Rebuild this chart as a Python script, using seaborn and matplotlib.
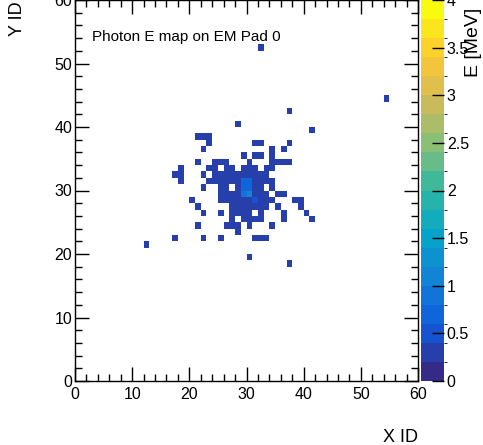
import numpy as np
import matplotlib
matplotlib.use("Agg")
import matplotlib.pyplot as plt
import matplotlib.colors as mcolors
import seaborn as sns

# fired cells on the EM pad: X ID, Y ID and energy (MeV)
cell_x = [32, 54, 37, 28, 41, 12, 17, 22, 25, 31, 32, 33, 30, 37,
          21, 22, 23,
          23, 31, 32, 37,
          22, 34, 36,
          29, 31, 32, 34,
          21, 24, 25, 26, 30, 34, 35, 36, 37,
          18, 23, 24, 26, 27, 29, 30, 31, 33, 34,
          17, 18, 22, 24, 25, 26, 27, 28, 29, 30, 31, 32, 33,
          18, 23, 24, 25, 26, 27, 28, 29, 30, 31, 32, 33, 34,
          22, 25, 26, 28, 29, 30, 31, 32, 34,
          25, 26, 27, 28, 29, 30, 31, 32, 33, 35, 36,
          20, 25, 26, 27, 28, 29, 30, 31, 32, 33, 34, 38, 39,
          21, 27, 28, 29, 30, 31, 32, 33, 35, 39,
          22, 25, 27, 28, 29, 30, 32, 36, 40,
          27, 29, 30, 31, 32, 36, 41,
          21, 26, 27, 28, 30, 34,
          28]
cell_y = [52, 44, 42, 40, 39, 21, 22, 22, 22, 22, 22, 22, 19, 18,
          38, 38, 38,
          37, 37, 37, 37,
          36, 36, 36,
          35, 35, 35, 35,
          34, 34, 34, 34, 34, 34, 34, 34, 34,
          33, 33, 33, 33, 33, 33, 33, 33, 33, 33,
          32, 32, 32, 32, 32, 32, 32, 32, 32, 32, 32, 32, 32,
          31, 31, 31, 31, 31, 31, 31, 31, 31, 31, 31, 31, 31,
          30, 30, 30, 30, 30, 30, 30, 30, 30,
          29, 29, 29, 29, 29, 29, 29, 29, 29, 29, 29,
          28, 28, 28, 28, 28, 28, 28, 28, 28, 28, 28, 28, 28,
          27, 27, 27, 27, 27, 27, 27, 27, 27, 27,
          26, 26, 26, 26, 26, 26, 26, 26, 26,
          25, 25, 25, 25, 25, 25, 25,
          24, 24, 24, 24, 24, 24,
          23]
cell_e = [0.28, 0.30, 0.27, 0.29, 0.31, 0.30, 0.28, 0.27, 0.29, 0.30, 0.32, 0.28, 0.29, 0.27,
          0.30, 0.28, 0.29,
          0.27, 0.31, 0.30, 0.28,
          0.29, 0.30, 0.28,
          0.31, 0.29, 0.30, 0.28,
          0.27, 0.30, 0.29, 0.31, 0.33, 0.29, 0.28, 0.30, 0.27,
          0.28, 0.30, 0.29, 0.31, 0.30, 0.34, 0.35, 0.32, 0.29, 0.28,
          0.27, 0.29, 0.30, 0.31, 0.32, 0.33, 0.34, 0.36, 0.38, 0.37, 0.35, 0.32, 0.30,
          0.28, 0.30, 0.31, 0.33, 0.34, 0.36, 0.38, 0.70, 0.68, 0.37, 0.34, 0.31, 0.29,
          0.29, 0.32, 0.34, 0.37, 0.76, 0.72, 0.38, 0.34, 0.30,
          0.30, 0.33, 0.35, 0.38, 0.92, 1.10, 0.39, 0.36, 0.32, 0.29, 0.28,
          0.28, 0.31, 0.33, 0.35, 0.37, 0.39, 0.38, 0.52, 0.36, 0.33, 0.30, 0.29, 0.28,
          0.29, 0.32, 0.34, 0.36, 0.37, 0.35, 0.33, 0.31, 0.30, 0.28,
          0.28, 0.30, 0.32, 0.33, 0.35, 0.34, 0.32, 0.29, 0.27,
          0.30, 0.32, 0.33, 0.31, 0.30, 0.28, 0.29,
          0.27, 0.30, 0.31, 0.29, 0.30, 0.28,
          0.30]

n_bins = 60
e_levels = np.linspace(0, 4, 21)
x_ticks = [0, 10, 20, 30, 40, 50, 60]
y_ticks = [0, 10, 20, 30, 40, 50, 60]
e_ticks = [0, 0.5, 1, 1.5, 2, 2.5, 3, 3.5, 4]
e_ticklabels = ['0', '0.5', '1', '1.5', '2', '2.5', '3', '3.5', '4']

grid = np.zeros((n_bins, n_bins))
for x, y, e in zip(cell_x, cell_y, cell_e):
    grid[y, x] = e

# ROOT kBird palette cut into 20 contour levels
bird_stops = [0, .125, .25, .375, .5, .625, .75, .875, 1]
bird_rgb = [(0.2082, 0.1664, 0.5293), (0.0592, 0.3599, 0.8684), (0.0780, 0.5041, 0.8385),
            (0.0232, 0.6419, 0.7914), (0.1802, 0.7178, 0.6425), (0.5301, 0.7492, 0.4662),
            (0.8186, 0.7328, 0.3499), (0.9956, 0.7862, 0.1968), (0.9764, 0.9832, 0.0539)]
bird = mcolors.LinearSegmentedColormap.from_list('bird', list(zip(bird_stops, bird_rgb)))
cmap = mcolors.ListedColormap([bird(k / 19) for k in range(20)])
norm = mcolors.BoundaryNorm(e_levels, cmap.N)

plt.rcParams['font.family'] = ['Liberation Sans', 'DejaVu Sans']

W, H = 483, 445
fig = plt.figure(figsize=(W / 100, H / 100), dpi=100)
ax = fig.add_axes([75 / W, 64 / H, 343 / W, 381 / H])
cax = fig.add_axes([421 / W, 64 / H, 23 / W, 381 / H])

sns.heatmap(grid, mask=grid == 0, cmap=cmap, norm=norm, ax=ax, cbar_ax=cax,
            xticklabels=False, yticklabels=False)

ax.set_xlim(0, n_bins)
ax.set_ylim(0, n_bins)
for s in ax.spines.values():
    s.set_visible(True)
    s.set_color('black')
    s.set_linewidth(1)

ax.set_xticks(x_ticks)
ax.set_xticklabels([str(t) for t in x_ticks])
ax.set_yticks(y_ticks)
ax.set_yticklabels([str(t) for t in y_ticks])
ax.set_xticks(np.arange(0, 61, 2), minor=True)
ax.set_yticks(np.arange(0, 61, 2), minor=True)
ax.tick_params(which='both', direction='in', top=True, right=True, bottom=True, left=True,
               width=1, color='black')
ax.tick_params(which='major', length=10, labelsize=11.5)
ax.tick_params(axis='x', which='major', pad=4)
ax.tick_params(axis='y', which='major', pad=2)
ax.tick_params(which='minor', length=5)
ax.set_xlabel('')
ax.set_ylabel('')

cb = ax.collections[0].colorbar
cb.outline.set_visible(False)
cb.set_ticks(e_ticks)
cb.set_ticklabels(e_ticklabels)
cb.ax.tick_params(direction='in', length=9, width=1, color='black', labelsize=11.5, pad=2)

fig.text(92 / W, 1 - 37 / H, 'Photon E map on EM Pad 0', fontsize=11, va='center', ha='left')
fig.text(418 / W, 1 - 437 / H, 'X ID', fontsize=13, va='center', ha='right')
fig.text(17 / W, 1 - 36 / H, 'Y ID', fontsize=13, rotation=90, va='bottom', ha='center')
fig.text(474 / W, 1 - 77 / H, 'E [MeV]', fontsize=14, rotation=90, va='bottom', ha='center')

plt.savefig('out.png', dpi=100)
